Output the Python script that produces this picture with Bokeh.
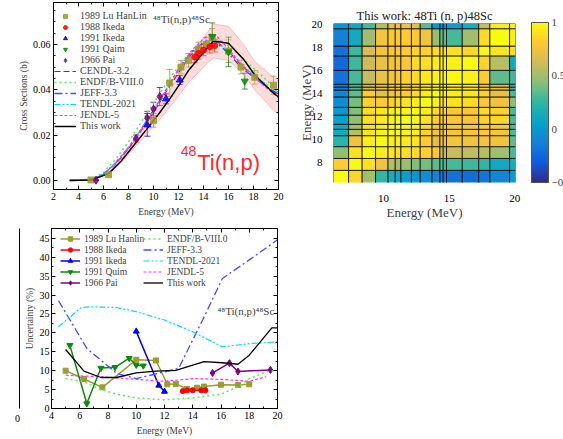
import numpy as np
from bokeh.plotting import figure
from bokeh.models import (ColumnDataSource, Whisker, TeeHead, Legend, LegendItem, Label,
                          LinearAxis, Range1d, FixedTicker, SingleIntervalTicker,
                          LinearColorMapper, ColorBar, NumeralTickFormatter)
from bokeh.transform import linear_cmap
from bokeh.layouts import row, column
from bokeh.embed import file_html
from bokeh.resources import INLINE

SERIF = "Liberation Serif"
SANS = "Liberation Sans"
LABEL_GREY = "#404040"

# ---------------- top-left: cross sections ----------------
eval_energy = [3.3, 5.0, 6.0, 7.0, 8.0, 9.0, 10.0, 11.0, 12.0, 13.0, 14.0, 14.5, 15.0, 16.0, 17.0, 18.0, 19.0, 20.0]
cendl = [0, 0.0003, 0.0025, 0.0075, 0.0140, 0.0220, 0.0300, 0.0390, 0.0475, 0.0555, 0.0605, 0.0620, 0.0615, 0.0570, 0.0510, 0.0460, 0.0415, 0.0375]
endf = [0, 0.0006, 0.0035, 0.0095, 0.0170, 0.0255, 0.0340, 0.0425, 0.0505, 0.0565, 0.0605, 0.0615, 0.0620, 0.0595, 0.0545, 0.0495, 0.0445, 0.0395]
jeff = [0, 0.0003, 0.0027, 0.0080, 0.0145, 0.0225, 0.0310, 0.0400, 0.0490, 0.0565, 0.0610, 0.0620, 0.0610, 0.0560, 0.0500, 0.0455, 0.0415, 0.0380]
tendl = [0, 0.0003, 0.0026, 0.0078, 0.0145, 0.0225, 0.0305, 0.0395, 0.0485, 0.0560, 0.0605, 0.0615, 0.0612, 0.0570, 0.0515, 0.0465, 0.0425, 0.0390]
jendl = [0, 0.0003, 0.0026, 0.0078, 0.0145, 0.0225, 0.0310, 0.0400, 0.0490, 0.0570, 0.0625, 0.0645, 0.0640, 0.0580, 0.0515, 0.0460, 0.0410, 0.0365]

tw_energy = [3.3, 5.0, 6.4, 7.4, 8.4, 9.4, 10.4, 11.3, 12.1, 12.8, 13.7, 14.3, 14.8, 16.0, 17.2, 18.1, 19.6, 20.0]
tw_xs = [0, 0.0002, 0.0030, 0.0085, 0.0153, 0.0222, 0.0292, 0.0360, 0.0425, 0.0485, 0.0545, 0.0585, 0.0615, 0.0605, 0.0535, 0.0465, 0.0385, 0.0368]
tw_upper = [0, 0.0003, 0.0034, 0.0093, 0.0167, 0.0244, 0.0322, 0.0397, 0.0470, 0.0537, 0.0608, 0.0652, 0.0690, 0.0680, 0.0600, 0.0525, 0.0455, 0.0440]
tw_lower = [0, 0.0001, 0.0026, 0.0077, 0.0139, 0.0200, 0.0262, 0.0323, 0.0380, 0.0433, 0.0482, 0.0518, 0.0540, 0.0530, 0.0470, 0.0400, 0.0310, 0.0290]

lu_e = [5.0, 6.4, 10.0, 11.3, 12.2, 12.8, 13.6, 14.2, 14.7, 16.0, 17.0, 18.1, 19.6]
lu_xs = [0.0002, 0.0025, 0.0265, 0.0430, 0.0500, 0.0530, 0.0580, 0.0600, 0.0630, 0.0570, 0.0500, 0.0455, 0.0420]
lu_err = [0.0002, 0.0004, 0.0030, 0.0060, 0.0030, 0.0030, 0.0030, 0.0030, 0.0040, 0.0050, 0.0030, 0.0030, 0.0040]
ik88_e = [13.3, 13.6, 14.0, 14.5, 14.9]
ik88_xs = [0.0545, 0.0560, 0.0575, 0.0590, 0.0595]
ik88_err = [0.0025, 0.0025, 0.0025, 0.0028, 0.0028]
ik91_e = [9.5, 11.0, 12.1]
ik91_xs = [0.0245, 0.0360, 0.0443]
ik91_err = [0.0050, 0.0022, 0.0020]
qaim_e = [14.7, 16.0, 17.3]
qaim_xs = [0.0635, 0.0567, 0.0438]
qaim_err = [0.0060, 0.0065, 0.0035]
pai_e = [5.4, 8.6, 9.5, 10.0, 10.5]
pai_xs = [0.0001, 0.0185, 0.0275, 0.0315, 0.0370]
pai_err = [0.0002, 0.0015, 0.0030, 0.0030, 0.0040]

# ---------------- top-right: correlation matrix ----------------
bin_edges = [6.2, 7.35, 8.38, 9.4, 10.35, 10.9, 11.33, 12.13, 12.8, 13.7, 14.3, 14.55, 14.8, 16.0, 17.25, 18.1, 19.6, 20.05]
corr = [
    [1.00, 0.85, 0.50, 0.25, 0.15, 0.10, 0.05, 0.00, -0.05, -0.10, -0.15, -0.15, -0.20, -0.22, -0.18, -0.10, 0.02],
    [0.82, 1.00, 0.90, 0.75, 0.55, 0.50, 0.48, 0.42, 0.40, 0.35, 0.33, 0.30, 0.30, 0.28, 0.25, 0.12, 0.15],
    [0.45, 0.90, 1.00, 0.95, 0.92, 0.90, 0.90, 0.88, 0.85, 0.80, 0.62, 0.60, 0.60, 0.58, 0.55, 0.50, 0.30],
    [0.22, 0.75, 0.95, 1.00, 0.96, 0.95, 0.94, 0.92, 0.82, 0.68, 0.72, 0.72, 0.76, 0.75, 0.76, 0.75, 0.35],
    [0.12, 0.55, 0.92, 0.96, 1.00, 0.98, 0.97, 0.95, 0.85, 0.75, 0.78, 0.78, 0.78, 0.78, 0.80, 0.78, 0.30],
    [0.10, 0.50, 0.90, 0.95, 0.98, 1.00, 0.98, 0.96, 0.88, 0.78, 0.80, 0.80, 0.80, 0.80, 0.82, 0.80, 0.30],
    [0.05, 0.47, 0.90, 0.94, 0.97, 0.98, 1.00, 0.98, 0.92, 0.82, 0.80, 0.80, 0.80, 0.78, 0.85, 0.86, 0.30],
    [0.00, 0.42, 0.88, 0.92, 0.95, 0.96, 0.98, 1.00, 0.95, 0.88, 0.85, 0.85, 0.80, 0.80, 0.88, 0.85, 0.32],
    [-0.05, 0.40, 0.85, 0.82, 0.85, 0.88, 0.92, 0.95, 1.00, 0.95, 0.92, 0.92, 0.90, 0.88, 0.80, 0.75, 0.45],
    [-0.10, 0.35, 0.82, 0.70, 0.75, 0.78, 0.82, 0.88, 0.95, 1.00, 0.97, 0.96, 0.95, 0.92, 0.85, 0.72, 0.30],
    [-0.12, 0.33, 0.65, 0.72, 0.78, 0.80, 0.80, 0.85, 0.92, 0.97, 1.00, 0.99, 0.96, 0.94, 0.85, 0.72, 0.30],
    [-0.15, 0.30, 0.62, 0.72, 0.78, 0.80, 0.80, 0.85, 0.92, 0.96, 0.99, 1.00, 0.97, 0.94, 0.85, 0.70, 0.30],
    [-0.20, 0.30, 0.60, 0.72, 0.76, 0.78, 0.85, 0.88, 0.93, 0.97, 0.97, 0.98, 1.00, 0.96, 0.82, 0.35, 0.28],
    [-0.25, 0.28, 0.62, 0.72, 0.76, 0.78, 0.80, 0.88, 0.90, 0.94, 0.95, 0.95, 0.96, 1.00, 0.85, 0.55, 0.10],
    [-0.20, 0.28, 0.65, 0.76, 0.80, 0.80, 0.82, 0.85, 0.85, 0.88, 0.88, 0.88, 0.90, 0.86, 1.00, 0.92, 0.90],
    [-0.12, 0.12, 0.50, 0.76, 0.80, 0.80, 0.82, 0.80, 0.75, 0.48, 0.36, 0.35, 0.30, 0.50, 0.88, 1.00, 0.95],
    [0.00, 0.10, 0.30, 0.55, 0.70, 0.72, 0.72, 0.68, 0.35, 0.00, -0.05, -0.05, 0.05, 0.15, 0.60, 0.95, 1.00],
]
cbar_ticks = [-0.5, 0, 0.5, 1]

# ---------------- bottom: uncertainties (%) ----------------
lu_u_e = [5.0, 6.3, 7.6, 10.0, 11.4, 12.2, 12.8, 13.6, 14.3, 14.8, 16.0, 17.2, 18.0]
lu_u = [10.0, 7.8, 5.6, 12.9, 12.7, 6.4, 6.5, 5.2, 5.5, 5.8, 6.3, 6.2, 6.4]
ik88_u_e = [13.3, 13.6, 14.0, 14.6, 14.9]
ik88_u = [4.6, 4.8, 4.8, 4.8, 4.8]
ik91_u_e = [10.0, 11.6, 12.0]
ik91_u = [20.4, 6.1, 4.5]
qu_u_e = [5.3, 6.5, 7.5, 8.5, 9.5, 10.0, 10.5]
qu_u = [16.7, 1.3, 10.7, 10.9, 13.3, 11.5, 11.3]
pai_u_e = [15.4, 16.6, 17.2, 19.5]
pai_u = [9.4, 12.0, 9.8, 10.2]

endf_u_e = [5.0, 6.3, 7.5, 8.6, 10.0, 12.0, 14.0, 16.0, 17.2, 18.0, 19.2, 20.0]
endf_u = [7.9, 7.1, 5.0, 3.8, 2.8, 2.3, 2.8, 3.8, 5.7, 7.9, 9.7, 10.1]
jeff_u_e = [4.5, 6.5, 8.6, 10.0, 12.0, 13.0, 14.7, 16.1, 18.0, 20.0]
jeff_u = [28.5, 15.9, 9.3, 7.9, 9.7, 10.6, 23.4, 34.4, 39.3, 44.6]
tendl_u_e = [4.5, 6.1, 6.8, 8.6, 10.0, 12.0, 14.0, 16.1, 18.1, 20.0]
tendl_u = [21.6, 26.7, 26.9, 26.7, 25.6, 23.4, 20.3, 16.3, 17.2, 17.6]
jendl_u_e = [5.0, 7.5, 10.0, 12.0, 14.0, 16.0, 18.0, 19.2]
jendl_u = [8.8, 8.4, 7.7, 7.2, 7.9, 7.7, 7.2, 8.4]
tw_u_e = [5.0, 6.3, 7.5, 8.6, 10.0, 11.4, 12.8, 14.8, 16.1, 17.2, 18.0, 19.6, 20.0]
tw_u = [15.6, 9.9, 8.2, 8.2, 9.4, 9.9, 10.1, 12.4, 12.1, 11.7, 14.1, 21.3, 21.3]
stub_tick = [0.5]
stub_label = {0.5: "0"}

# colours
C_LU, C_IK88, C_IK91, C_QA, C_PAI = "#9c9c2e", "#ff0000", "#0000ff", "#0a8a0a", "#800080"
C_CENDL, C_ENDF, C_JEFF, C_TENDL, C_JENDL = "#ff0000", "#55ee55", "#4a4aff", "#00e0f0", "#ff33ff"

parula_anchor = ["#352A87", "#0F5CDD", "#1481D6", "#06A4CA", "#2EB7A4",
                 "#87BF77", "#D1BB59", "#FEC832", "#F9FB0E"]


def make_palette(anchors, n=256):
    rgb = np.array([[int(a[i:i + 2], 16) for i in (1, 3, 5)] for a in anchors], dtype=float)
    pos = np.linspace(0, 1, len(anchors))
    out = []
    for t in np.linspace(0, 1, n):
        c = [np.interp(t, pos, rgb[:, k]) for k in range(3)]
        out.append("#%02x%02x%02x" % tuple(int(round(v)) for v in c))
    return out


def style_axis(ax, size="10px"):
    ax.axis_line_color = "black"
    ax.major_tick_in = 4
    ax.major_tick_out = 0
    ax.minor_tick_in = 2
    ax.minor_tick_out = 0
    ax.major_tick_line_color = "black"
    ax.minor_tick_line_color = "black"
    ax.major_label_text_font = SERIF
    ax.major_label_text_font_size = size
    ax.major_label_text_color = "black"
    ax.major_label_standoff = 3
    ax.axis_label_text_font = SERIF
    ax.axis_label_text_font_style = "normal"
    ax.axis_label_text_font_size = "9.5px"
    ax.axis_label_text_color = LABEL_GREY
    ax.axis_label_standoff = 4


def boxed(p, xint, xminor, yint, yminor):
    p.xaxis.ticker = SingleIntervalTicker(interval=xint, num_minor_ticks=xminor)
    p.yaxis.ticker = SingleIntervalTicker(interval=yint, num_minor_ticks=yminor)
    for ax in p.xaxis + p.yaxis:
        style_axis(ax)
    for side, iv, mn in (("above", xint, xminor), ("right", yint, yminor)):
        ax = LinearAxis(ticker=SingleIntervalTicker(interval=iv, num_minor_ticks=mn))
        style_axis(ax)
        ax.major_label_text_font_size = "0px"
        ax.major_label_standoff = 0
        p.add_layout(ax, side)
    p.xgrid.visible = False
    p.ygrid.visible = False
    p.outline_line_color = "black"


# ================= figure 1 =================
p1 = figure(width=290, height=222, output_backend="svg", toolbar_location=None,
            x_range=Range1d(2, 20), y_range=Range1d(-0.004, 0.0785),
            min_border_left=53, min_border_right=12, min_border_top=2, min_border_bottom=33)
p1.xaxis.axis_label = "Energy (MeV)"
p1.yaxis.axis_label = "Cross Sections (b)"
boxed(p1, 2, 2, 0.02, 4)
p1.yaxis[0].formatter = NumeralTickFormatter(format="0.00")
p1.yaxis[0].axis_label_standoff = 1

p1.varea(x=tw_energy, y1=tw_lower, y2=tw_upper, fill_color="#ff9a9a", fill_alpha=0.35)
p1.line(tw_energy, tw_upper, line_color="#f08a8a", line_width=0.8, line_alpha=0.6)
p1.line(tw_energy, tw_lower, line_color="#f08a8a", line_width=0.8, line_alpha=0.6)

r_cendl = p1.line(eval_energy, cendl, line_color=C_CENDL, line_dash="6 3", line_width=1.2)
r_endf = p1.line(eval_energy, endf, line_color=C_ENDF, line_dash="2 3", line_width=1.6)
r_jeff = p1.line(eval_energy, jeff, line_color=C_JEFF, line_dash="8 3 2 3", line_width=1.4)
r_tendl = p1.line(eval_energy, tendl, line_color=C_TENDL, line_dash="6 2 2 2 2 2", line_width=1.2)
r_jendl = p1.line(eval_energy, jendl, line_color=C_JENDL, line_dash="3 2", line_width=1.2)
r_tw = p1.line(tw_energy, tw_xs, line_color="black", line_width=1.5)


def exp_points(p, e, v, err, color, marker, size):
    src = ColumnDataSource(dict(x=e, y=v, up=[a + b for a, b in zip(v, err)],
                                lo=[a - b for a, b in zip(v, err)]))
    w = Whisker(source=src, base="x", upper="up", lower="lo", line_color=color, line_alpha=0.8,
                upper_head=TeeHead(size=6, line_color=color, line_alpha=0.8),
                lower_head=TeeHead(size=6, line_color=color, line_alpha=0.8))
    p.add_layout(w)
    return p.scatter("x", "y", source=src, marker=marker, size=size, fill_color=color,
                     line_color=color, alpha=0.85)


r_lu = exp_points(p1, lu_e, lu_xs, lu_err, C_LU, "square", 6)
r_ik88 = exp_points(p1, ik88_e, ik88_xs, ik88_err, C_IK88, "circle", 6)
r_ik91 = exp_points(p1, ik91_e, ik91_xs, ik91_err, C_IK91, "triangle", 7)
r_qa = exp_points(p1, qaim_e, qaim_xs, qaim_err, C_QA, "inverted_triangle", 7)
r_pai = exp_points(p1, pai_e, pai_xs, pai_err, C_PAI, "diamond", 8)

leg1 = Legend(items=[
    LegendItem(label="1989 Lu HanLin", renderers=[r_lu]),
    LegendItem(label="1988 Ikeda", renderers=[r_ik88]),
    LegendItem(label="1991 Ikeda", renderers=[r_ik91]),
    LegendItem(label="1991 Qaim", renderers=[r_qa]),
    LegendItem(label="1966 Pai", renderers=[r_pai]),
    LegendItem(label="CENDL-3.2", renderers=[r_cendl]),
    LegendItem(label="ENDF/B-VIII.0", renderers=[r_endf]),
    LegendItem(label="JEFF-3.3", renderers=[r_jeff]),
    LegendItem(label="TENDL-2021", renderers=[r_tendl]),
    LegendItem(label="JENDL-5", renderers=[r_jendl]),
    LegendItem(label="This work", renderers=[r_tw]),
], location=(1, 58), margin=0, padding=1, spacing=0, label_height=10, glyph_height=10,
    glyph_width=22, label_standoff=4, label_text_font=SERIF, label_text_font_size="10px",
    border_line_color=None, background_fill_alpha=0)
p1.add_layout(leg1)

p1.add_layout(Label(x=9.96, y=0.0712, text="\u2074\u2078Ti(n,p)\u2074\u2078Sc", text_font=SERIF,
                    text_font_size="11px", text_baseline="middle", text_align="left"))
p1.add_layout(Label(x=13.42, y=0.0128, text="48", text_font=SANS, text_font_size="14px",
                    text_color="#ff2a2a", text_baseline="middle", text_align="right"))
p1.add_layout(Label(x=13.5, y=0.0079, text="Ti(n,p)", text_font=SANS, text_font_size="22px",
                    text_color="#ff2a2a", text_baseline="middle", text_align="left"))

# ================= figure 2 =================
palette = make_palette(parula_anchor)
mapper = LinearColorMapper(palette=palette, low=-0.5, high=1)
p2 = figure(width=273, height=222, output_backend="svg", toolbar_location=None,
            x_range=Range1d(6.2, 20.05), y_range=Range1d(6.3, 20.05),
            min_border_left=43, min_border_right=48, min_border_top=23, min_border_bottom=39,
            title="This work: 48Ti (n, p)48Sc")
p2.title.text_font = SERIF
p2.title.text_font_style = "normal"
p2.title.text_font_size = "12.5px"
p2.title.text_color = "#202020"
p2.title.align = "center"
p2.title.standoff = 2
L, R, B, T, V = [], [], [], [], []
for i in range(len(corr)):
    for j in range(len(corr[i])):
        L.append(bin_edges[j]); R.append(bin_edges[j + 1])
        B.append(bin_edges[i]); T.append(bin_edges[i + 1]); V.append(corr[i][j])
src2 = ColumnDataSource(dict(left=L, right=R, bottom=B, top=T, v=V))
p2.quad(left="left", right="right", bottom="bottom", top="top", source=src2,
        fill_color=linear_cmap("v", palette, -0.5, 1), line_color="black", line_alpha=0.75, line_width=1)
p2.xaxis.ticker = FixedTicker(ticks=[10, 15, 20])
p2.yaxis.ticker = FixedTicker(ticks=[8, 10, 12, 14, 16, 18, 20])
for ax in p2.xaxis + p2.yaxis:
    ax.axis_line_color = None
    ax.major_tick_line_color = None
    ax.minor_tick_line_color = None
    ax.major_label_text_font = SERIF
    ax.major_label_text_font_size = "11px"
    ax.major_label_text_color = "black"
    ax.axis_label_text_font = SERIF
    ax.axis_label_text_font_style = "normal"
    ax.axis_label_text_font_size = "13px"
    ax.axis_label_text_color = LABEL_GREY
p2.xaxis.major_label_standoff = 6
p2.xaxis.axis_label_standoff = 0
p2.yaxis.major_label_standoff = 5
p2.yaxis.axis_label_standoff = -5
p2.xaxis.axis_label = "Energy (MeV)"
p2.yaxis.axis_label = "Energy (MeV)"
p2.xgrid.visible = False
p2.ygrid.visible = False
p2.outline_line_color = None
cb = ColorBar(color_mapper=mapper, location=(198, 0), width=17, height=160, padding=0, margin=0,
              ticker=FixedTicker(ticks=cbar_ticks), major_label_text_font=SERIF,
              major_label_text_font_size="11px", label_standoff=3, major_tick_line_color=None,
              minor_tick_line_color=None, bar_line_color="#555555", border_line_color=None,
              background_fill_color=None)
p2.add_layout(cb)

# ================= figure 3 (with a narrow stub holding the stray axis line and "0") =================
stub = figure(width=21, height=217, output_backend="svg", toolbar_location=None,
              x_range=Range1d(0, 1), y_range=Range1d(0, 1),
              min_border_left=19, min_border_right=0, min_border_top=6, min_border_bottom=31)
stub.outline_line_color = None
stub.xgrid.visible = False
stub.ygrid.visible = False
stub.yaxis.axis_line_color = "black"
stub.yaxis.major_tick_line_color = None
stub.yaxis.minor_tick_line_color = None
stub.yaxis.major_label_text_font_size = "0px"
stub.yaxis.major_label_standoff = 0
stub.xaxis.ticker = FixedTicker(ticks=stub_tick)
stub.xaxis.major_label_overrides = stub_label
stub.xaxis.axis_line_color = None
stub.xaxis.major_tick_line_color = None
stub.xaxis.minor_tick_line_color = None
stub.xaxis.major_label_text_font = SERIF
stub.xaxis.major_label_text_font_size = "10px"
stub.xaxis.major_label_text_color = "black"
stub.xaxis.major_label_standoff = 0

p3 = figure(width=269, height=217, output_backend="svg", toolbar_location=None,
            x_range=Range1d(4, 20), y_range=Range1d(0, 47.6),
            min_border_left=30, min_border_right=13, min_border_top=6, min_border_bottom=31)
p3.xaxis.axis_label = "Energy (MeV)"
p3.yaxis.axis_label = "Uncertainty (%)"
boxed(p3, 2, 2, 5, 2)
p3.yaxis[0].major_label_standoff = 2
p3.yaxis[0].axis_label_standoff = 2


def exp_line(p, e, u, color, marker, size):
    l = p.line(e, u, line_color=color, line_width=1.5)
    s = p.scatter(e, u, marker=marker, size=size, fill_color=color, line_color=color)
    return [l, s]


g_lu = exp_line(p3, lu_u_e, lu_u, C_LU, "square", 5)
g_ik88 = exp_line(p3, ik88_u_e, ik88_u, C_IK88, "circle", 5)
g_ik91 = exp_line(p3, ik91_u_e, ik91_u, C_IK91, "triangle", 6)
g_qa = exp_line(p3, qu_u_e, qu_u, C_QA, "inverted_triangle", 6)
g_pai = exp_line(p3, pai_u_e, pai_u, C_PAI, "diamond", 7)
b_endf = p3.line(endf_u_e, endf_u, line_color=C_ENDF, line_dash="2 3", line_width=1.5)
b_jeff = p3.line(jeff_u_e, jeff_u, line_color=C_JEFF, line_dash="8 3 2 3", line_width=1.3)
b_tendl = p3.line(tendl_u_e, tendl_u, line_color=C_TENDL, line_dash="6 2 2 2 2 2", line_width=1.2)
b_jendl = p3.line(jendl_u_e, jendl_u, line_color=C_JENDL, line_dash="3 2", line_width=1.2)
b_tw = p3.line(tw_u_e, tw_u, line_color="black", line_width=1.3)

leg_common = dict(padding=0, spacing=0, label_height=11, glyph_height=11, glyph_width=20,
                  label_standoff=4, label_text_font=SERIF, label_text_font_size="9.5px",
                  border_line_color=None, background_fill_alpha=0)
leg3a = Legend(items=[
    LegendItem(label="1989 Lu Hanlin", renderers=g_lu),
    LegendItem(label="1988 Ikeda", renderers=g_ik88),
    LegendItem(label="1991 Ikeda", renderers=g_ik91),
    LegendItem(label="1991 Quim", renderers=g_qa),
    LegendItem(label="1966 Pai", renderers=g_pai),
], location=(9, 120), **leg_common)
leg3b = Legend(items=[
    LegendItem(label="ENDF/B-VIII.0", renderers=[b_endf]),
    LegendItem(label="JEFF-3.3", renderers=[b_jeff]),
    LegendItem(label="TENDL-2021", renderers=[b_tendl]),
    LegendItem(label="JENDL-5", renderers=[b_jendl]),
    LegendItem(label="This work", renderers=[b_tw]),
], location=(92, 120), **leg_common)
p3.add_layout(leg3a)
p3.add_layout(leg3b)
p3.add_layout(Label(x=15.75, y=25.7, text="\u2074\u2078Ti(n,p)\u2074\u2078Sc", text_font=SERIF,
                    text_font_size="11px", text_baseline="middle", text_align="left"))

layout = row(column(p1, row(stub, p3)), p2)
open("out.html", "w").write(file_html(layout, INLINE))
